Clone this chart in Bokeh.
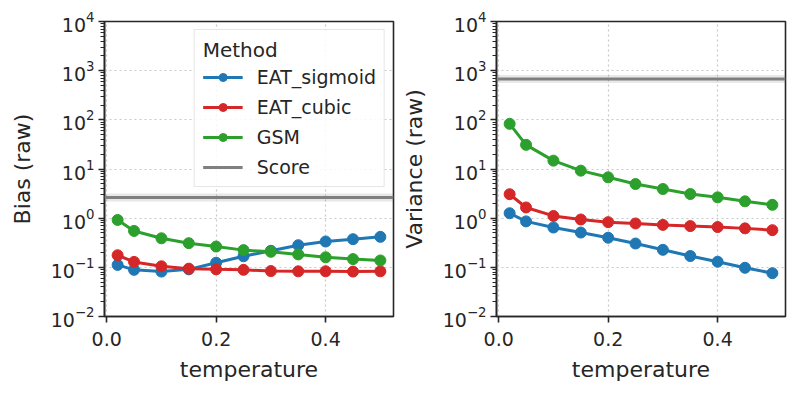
from bokeh.plotting import figure
from bokeh.layouts import row
from bokeh.models import (Span, FixedTicker, LogTickFormatter, NumeralTickFormatter,
                          Range1d, Legend, LegendItem, ColumnDataSource)
from bokeh.embed import file_html
from bokeh.resources import INLINE

# ---- data ----
temperature = [0.02, 0.05, 0.10, 0.15, 0.20, 0.25, 0.30, 0.35, 0.40, 0.45, 0.50]

bias_sigmoid = [0.112, 0.089, 0.082, 0.091, 0.124, 0.168, 0.217, 0.282, 0.335, 0.374, 0.417]
bias_cubic = [0.176, 0.129, 0.105, 0.094, 0.091, 0.089, 0.084, 0.083, 0.083, 0.082, 0.083]
bias_gsm = [0.92, 0.55, 0.39, 0.31, 0.265, 0.224, 0.207, 0.183, 0.16, 0.147, 0.138]
bias_score = 2.63

var_sigmoid = [1.26, 0.86, 0.646, 0.51, 0.40, 0.305, 0.227, 0.17, 0.13, 0.098, 0.076]
var_cubic = [3.07, 1.65, 1.11, 0.94, 0.83, 0.78, 0.73, 0.69, 0.66, 0.62, 0.57]
var_gsm = [83, 31, 14.8, 9.25, 6.77, 4.95, 3.92, 3.1, 2.65, 2.2, 1.87]
var_score = 677

methods = ["EAT_sigmoid", "EAT_cubic", "GSM"]
colors = ["#1f77b4", "#d62728", "#2ca02c"]
score_color = "#808080"

y_major = [1e-2, 1e-1, 1e0, 1e1, 1e2, 1e3, 1e4]
y_minor = [m * d for d in y_major[:-1] for m in range(2, 10)]
x_ticks = [0.0, 0.2, 0.4]

FONT = "DejaVu Sans"
TXT = "#262626"


def make_fig(ylabel, series, score, border_left, border_right, with_legend):
    p = figure(width=border_left + 289 + border_right, height=386, y_axis_type="log",
               output_backend="svg", toolbar_location=None,
               min_border_left=border_left, min_border_right=border_right,
               min_border_top=21, min_border_bottom=70)
    p.x_range = Range1d(-0.004, 0.524)
    p.y_range = Range1d(1e-2, 1e4)
    p.background_fill_color = "white"
    p.border_fill_color = "white"
    p.outline_line_color = TXT
    p.outline_line_width = 1.6

    # grids
    for g in (p.xgrid, p.ygrid):
        g.grid_line_color = "#c8c8c8"
        g.grid_line_dash = "2 3"
        g.grid_line_width = 1.2
    p.xgrid.ticker = FixedTicker(ticks=x_ticks)
    p.ygrid.ticker = FixedTicker(ticks=y_major)

    # axes
    p.xaxis.ticker = FixedTicker(ticks=x_ticks)
    p.xaxis.formatter = NumeralTickFormatter(format="0.0")
    p.yaxis.ticker = FixedTicker(ticks=y_major, minor_ticks=y_minor)
    p.yaxis.formatter = LogTickFormatter(min_exponent=0)
    for ax in (p.xaxis, p.yaxis):
        ax.axis_line_color = TXT
        ax.axis_line_width = 1.6
        ax.major_tick_line_color = TXT
        ax.minor_tick_line_color = TXT
        ax.major_tick_line_width = 1.6
        ax.minor_tick_line_width = 1.0
        ax.major_tick_out = 6
        ax.major_tick_in = 0
        ax.minor_tick_out = 4
        ax.minor_tick_in = 0
        ax.major_label_text_font = FONT
        ax.major_label_text_font_size = "19px"
        ax.major_label_text_color = TXT
        ax.axis_label_text_font = FONT
        ax.axis_label_text_font_size = "22px"
        ax.axis_label_text_font_style = "normal"
        ax.axis_label_text_color = TXT
    p.xaxis.minor_tick_line_color = None
    p.xaxis.axis_label = "temperature"
    p.xaxis.major_label_standoff = 9
    p.xaxis.axis_label_standoff = 8
    p.yaxis.axis_label = ylabel
    p.yaxis.major_label_standoff = 4
    p.yaxis.axis_label_standoff = 13

    # score line (with faint band)
    p.add_layout(Span(location=score, dimension="width", line_color=score_color,
                      line_alpha=0.18, line_width=8))
    p.add_layout(Span(location=score, dimension="width", line_color=score_color,
                      line_width=3))

    items = []
    for name, col, vals in zip(methods, colors, series):
        src = ColumnDataSource(dict(x=temperature, y=vals))
        r1 = p.line("x", "y", source=src, line_color=col, line_width=3)
        r2 = p.scatter("x", "y", source=src, marker="circle", size=11,
                       fill_color=col, line_color=col)
        items.append(LegendItem(label=name, renderers=[r1, r2]))

    if with_legend:
        # one-point line: draws nothing in the plot, only provides the legend glyph
        dummy = p.line(x=[temperature[0]], y=[score], line_color=score_color, line_width=3)
        items.append(LegendItem(label="Score", renderers=[dummy]))
        leg = Legend(items=items, location="top_right")
        leg.title = "Method"
        leg.title_text_font = FONT
        leg.title_text_font_size = "20px"
        leg.title_text_font_style = "normal"
        leg.title_text_color = TXT
        leg.title_standoff = 4
        leg.label_text_font = FONT
        leg.label_text_font_size = "19px"
        leg.label_text_color = TXT
        leg.glyph_width = 40
        leg.glyph_height = 20
        leg.label_height = 20
        leg.label_standoff = 14
        leg.spacing = 8
        leg.padding = 8
        leg.margin = 8
        leg.border_line_color = "#cccccc"
        leg.border_line_width = 1.2
        leg.background_fill_color = "white"
        leg.background_fill_alpha = 0.85
        p.add_layout(leg)
    return p


p1 = make_fig("Bias (raw)", [bias_sigmoid, bias_cubic, bias_gsm], bias_score, 104, 5, True)
p2 = make_fig("Variance (raw)", [var_sigmoid, var_cubic, var_gsm], var_score, 98, 3, False)

layout = row(p1, p2)
open("out.html", "w").write(file_html(layout, INLINE))
